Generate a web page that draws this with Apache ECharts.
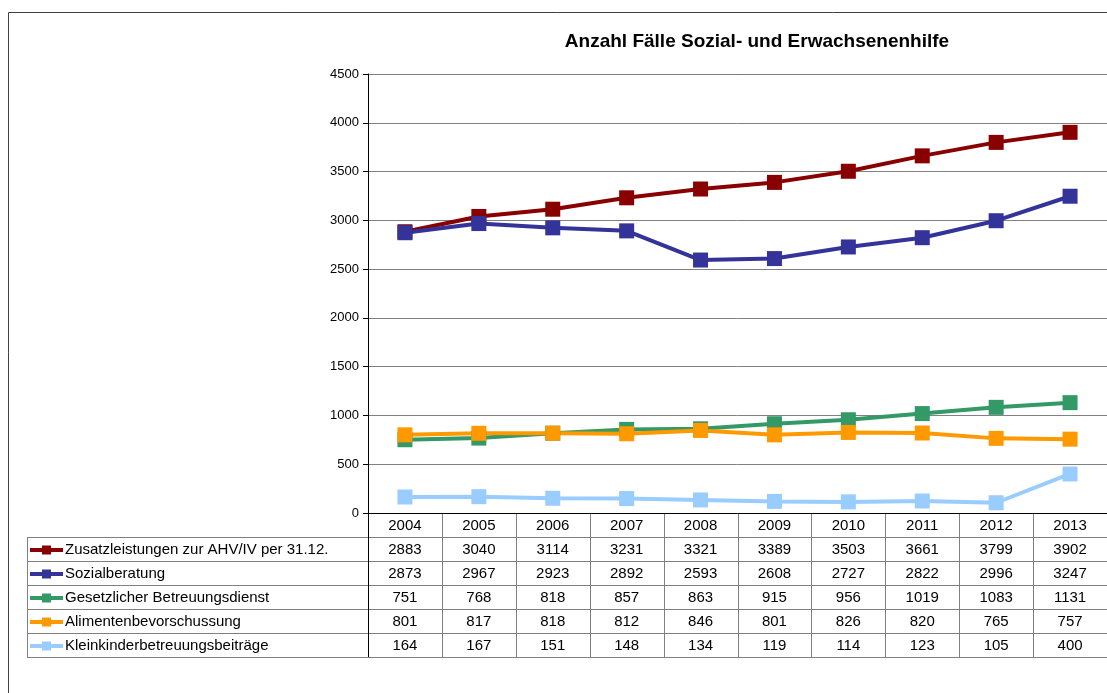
<!DOCTYPE html>
<html>
<head>
<meta charset="utf-8">
<script src="https://cdn.jsdelivr.net/npm/echarts@6/dist/echarts.min.js"></script>
<style>
  html, body { margin: 0; padding: 0; background: #fff; }
  #chart { width: 1107px; height: 693px; }
</style>
</head>
<body>
<div id="chart"></div>
<script>
var years = ['2004', '2005', '2006', '2007', '2008', '2009', '2010', '2011', '2012', '2013']
var seriesNames = [
  'Zusatzleistungen zur AHV/IV per 31.12.',
  'Sozialberatung',
  'Gesetzlicher Betreuungsdienst',
  'Alimentenbevorschussung',
  'Kleinkinderbetreuungsbeiträge'
]
var zusatz = [2883, 3040, 3114, 3231, 3321, 3389, 3503, 3661, 3799, 3902]
var sozial = [2873, 2967, 2923, 2892, 2593, 2608, 2727, 2822, 2996, 3247]
var betreuung = [751, 768, 818, 857, 863, 915, 956, 1019, 1083, 1131]
var alimente = [801, 817, 818, 812, 846, 801, 826, 820, 765, 757]
var kleinkind = [164, 167, 151, 148, 134, 119, 114, 123, 105, 400]
var allData = [zusatz, sozial, betreuung, alimente, kleinkind]
var colors = ['#880000', '#333399', '#339966', '#ff9900', '#99ccff']
var yTicks = [0, 500, 1000, 1500, 2000, 2500, 3000, 3500, 4000, 4500]

var font = 'Liberation Sans, Arial, sans-serif'
var gLeft = 368, gTop = 74, gRight = 1107, gBottom = 513
var rowH = 24
var colW = (gRight - gLeft) / years.length

var dom = document.getElementById('chart')
var myChart = echarts.init(dom)

// table + frame drawn as graphic elements
var graphic = []
// outer frame
graphic.push({ type: 'line', shape: { x1: 8.5, y1: 12.5, x2: 1107, y2: 12.5 }, style: { stroke: '#404040', lineWidth: 1 } })
graphic.push({ type: 'line', shape: { x1: 8.5, y1: 12.5, x2: 8.5, y2: 693 }, style: { stroke: '#404040', lineWidth: 1 } })
// top border of plot
graphic.push({ type: 'line', shape: { x1: gLeft, y1: gTop + 0.5, x2: gRight, y2: gTop + 0.5 }, style: { stroke: '#000', lineWidth: 1 } })

var tableBottom = gBottom + rowH * (seriesNames.length + 1)
// horizontal row lines
for (var r = 1; r <= seriesNames.length + 1; r++) {
  var y = gBottom + r * rowH + 0.5
  graphic.push({ type: 'line', shape: { x1: 27, y1: y, x2: gRight, y2: y }, style: { stroke: '#808080', lineWidth: 1 } })
}
// legend cell left border
graphic.push({ type: 'line', shape: { x1: 27.5, y1: gBottom + rowH, x2: 27.5, y2: tableBottom }, style: { stroke: '#808080', lineWidth: 1 } })
// vertical column lines
for (var c = 0; c <= years.length; c++) {
  var x = Math.round(gLeft + c * colW) + 0.5
  graphic.push({ type: 'line', shape: { x1: x, y1: gBottom, x2: x, y2: tableBottom }, style: { stroke: c === 0 ? '#000' : '#808080', lineWidth: 1 } })
}
// year header
years.forEach(function (yr, i) {
  graphic.push({
    type: 'text', x: gLeft + (i + 0.5) * colW, y: gBottom + rowH / 2 + 1,
    style: { text: yr, fill: '#000', font: '15px ' + font, align: 'center', verticalAlign: 'middle' }
  })
})
// series rows
seriesNames.forEach(function (name, s) {
  var cy = gBottom + (s + 1) * rowH + rowH / 2 + 1
  graphic.push({ type: 'line', shape: { x1: 30, y1: cy, x2: 63, y2: cy }, style: { stroke: colors[s], lineWidth: 4 } })
  graphic.push({ type: 'rect', shape: { x: 42, y: cy - 4.5, width: 9, height: 9 }, style: { fill: colors[s] } })
  graphic.push({
    type: 'text', x: 65, y: cy,
    style: { text: name, fill: '#000', font: '15px ' + font, align: 'left', verticalAlign: 'middle' }
  })
  allData[s].forEach(function (v, i) {
    graphic.push({
      type: 'text', x: gLeft + (i + 0.5) * colW, y: cy,
      style: { text: String(v), fill: '#000', font: '15px ' + font, align: 'center', verticalAlign: 'middle' }
    })
  })
})

var option = {
  backgroundColor: '#fff',
  animation: false,
  title: {
    text: 'Anzahl Fälle Sozial- und Erwachsenenhilfe',
    left: 752,
    top: 27,
    textAlign: 'center',
    textStyle: { fontFamily: font, fontSize: 19, fontWeight: 'bold', color: '#000' }
  },
  grid: { left: gLeft, top: gTop, right: 1107 - gRight, bottom: 693 - gBottom },
  xAxis: {
    type: 'category',
    data: years,
    boundaryGap: true,
    axisLine: { lineStyle: { color: '#000', width: 1 } },
    axisTick: { show: false },
    axisLabel: { show: false }
  },
  yAxis: {
    type: 'value',
    min: yTicks[0],
    max: yTicks[yTicks.length - 1],
    interval: 500,
    axisLine: { show: true, lineStyle: { color: '#000', width: 1 } },
    axisTick: { show: true, length: 5, lineStyle: { color: '#000' } },
    axisLabel: { fontFamily: font, fontSize: 13, color: '#000', margin: 9, formatter: function (v) { return String(v) } },
    splitLine: { lineStyle: { color: '#808080', width: 1 } }
  },
  series: seriesNames.map(function (name, s) {
    return {
      name: name,
      type: 'line',
      data: allData[s],
      symbol: 'rect',
      symbolSize: 15,
      lineStyle: { color: colors[s], width: 4 },
      itemStyle: { color: colors[s] }
    }
  }),
  graphic: graphic
}
myChart.setOption(option)
</script>
</body>
</html>
